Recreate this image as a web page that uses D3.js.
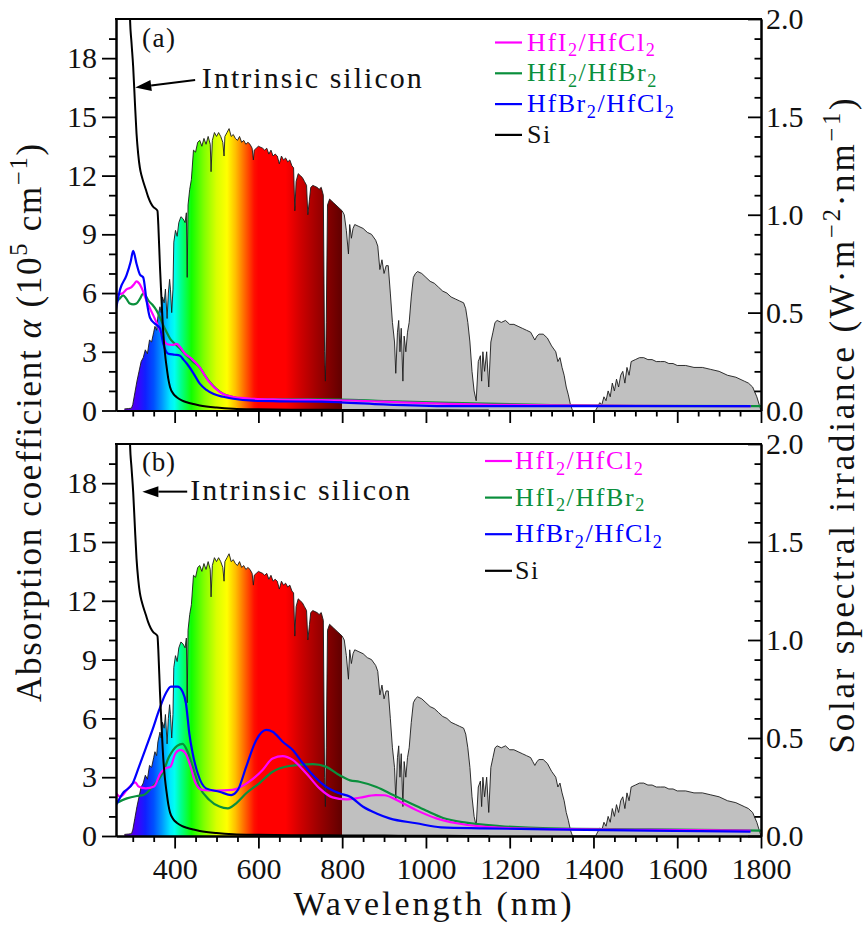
<!DOCTYPE html>
<html><head><meta charset="utf-8">
<script src="https://cdn.jsdelivr.net/npm/d3@7"></script>
<style>
body{margin:0;background:#fff}
svg{display:block}
svg text{font-family:"Liberation Serif","DejaVu Serif",serif !important;fill:#111}
</style>
</head><body>
<svg id="c" width="863" height="930"></svg>
<script>
// ---------------- DATA ----------------
const xTicksMajor = [400,600,800,1000,1200,1400,1600,1800];
const yLeftTicks = [0,3,6,9,12,15,18];
const yRightTicks = [0,0.5,1.0,1.5,2.0];

// AM1.5 solar spectral irradiance (nm, W m^-2 nm^-1)
const solarSpectrum = [[280,0.008],[290,0.01],[297,0.012],[300,0.03],[305,0.09],[310,0.15],[315,0.2],[320,0.25],[325,0.27],[330,0.31],[335,0.29],[340,0.36],[345,0.35],[350,0.40],[353,0.43],[357,0.41],[360,0.48],[365,0.53],[368,0.50],[371,0.58],[375,0.55],[378,0.62],[382,0.47],[385,0.60],[388,0.67],[390,0.62],[393,0.50],[396,0.62],[398,0.86],[402,0.92],[406,0.89],[410,0.96],[415,0.99],[420,0.98],[425,0.96],[428,1.01],[430,0.68],[432,1.05],[436,1.13],[440,1.18],[445,1.33],[450,1.32],[455,1.37],[460,1.38],[465,1.35],[470,1.39],[475,1.36],[480,1.40],[485,1.36],[487,1.22],[490,1.38],[495,1.42],[500,1.40],[505,1.42],[510,1.40],[515,1.37],[518,1.30],[520,1.40],[525,1.42],[530,1.44],[535,1.40],[540,1.41],[545,1.39],[550,1.38],[555,1.40],[560,1.37],[565,1.38],[570,1.36],[575,1.37],[580,1.36],[585,1.34],[588,1.28],[590,1.33],[595,1.34],[600,1.35],[610,1.34],[615,1.33],[620,1.34],[625,1.31],[630,1.33],[635,1.30],[640,1.31],[645,1.30],[650,1.26],[655,1.30],[660,1.28],[665,1.29],[670,1.27],[675,1.28],[680,1.25],[684,1.24],[687,1.02],[690,1.17],[695,1.21],[700,1.20],[705,1.19],[710,1.17],[715,1.15],[718,1.00],[722,1.08],[725,1.14],[730,1.15],[740,1.14],[745,1.13],[750,1.14],[755,1.10],[758,0.30],[760,0.15],[762,0.45],[765,1.05],[770,1.08],[780,1.06],[790,1.04],[795,1.03],[800,1.02],[805,1.00],[810,0.92],[815,0.80],[818,0.95],[822,0.88],[826,0.93],[830,0.95],[840,0.94],[850,0.93],[860,0.91],[870,0.90],[880,0.87],[885,0.84],[890,0.72],[895,0.77],[900,0.70],[905,0.74],[910,0.74],[915,0.60],[920,0.45],[925,0.35],[928,0.19],[932,0.40],[935,0.46],[938,0.30],[941,0.42],[945,0.15],[948,0.38],[952,0.30],[956,0.40],[960,0.45],[965,0.58],[970,0.68],[975,0.70],[980,0.71],[990,0.70],[1000,0.68],[1010,0.66],[1020,0.65],[1030,0.63],[1040,0.61],[1050,0.60],[1060,0.58],[1070,0.57],[1080,0.56],[1090,0.55],[1095,0.52],[1100,0.45],[1105,0.35],[1110,0.20],[1115,0.10],[1120,0.05],[1125,0.25],[1130,0.28],[1133,0.15],[1136,0.30],[1140,0.20],[1145,0.30],[1150,0.12],[1155,0.35],[1160,0.40],[1165,0.45],[1170,0.46],[1180,0.45],[1190,0.46],[1200,0.44],[1210,0.44],[1220,0.43],[1230,0.42],[1240,0.41],[1250,0.40],[1255,0.38],[1260,0.36],[1265,0.38],[1270,0.39],[1280,0.39],[1290,0.37],[1300,0.33],[1310,0.30],[1315,0.25],[1320,0.27],[1325,0.22],[1330,0.18],[1335,0.12],[1340,0.08],[1345,0.03],[1350,0.0],[1405,0.0],[1410,0.02],[1415,0.04],[1420,0.03],[1425,0.07],[1430,0.05],[1435,0.10],[1440,0.07],[1445,0.14],[1450,0.10],[1455,0.16],[1460,0.12],[1465,0.18],[1470,0.20],[1475,0.14],[1480,0.22],[1485,0.18],[1490,0.25],[1500,0.26],[1510,0.27],[1520,0.27],[1530,0.26],[1540,0.26],[1550,0.25],[1560,0.25],[1570,0.25],[1580,0.24],[1590,0.24],[1600,0.23],[1620,0.23],[1640,0.22],[1660,0.22],[1680,0.21],[1700,0.20],[1720,0.18],[1740,0.17],[1760,0.15],[1770,0.14],[1780,0.12],[1790,0.07],[1800,0.0]];

// spectrum fill colour stops (nm, colour)
const spectrumColors = [[260,"#4a0080"],[290,"#5a00d8"],[310,"#4000ff"],[330,"#1020ff"],[350,"#0050ff"],[370,"#0098ff"],[390,"#00eaff"],[400,"#00fff0"],[415,"#00ff90"],[440,"#10ff00"],[470,"#80ff00"],[500,"#d8ff00"],[525,"#ffff00"],[545,"#ffc000"],[565,"#ff7000"],[590,"#ff1000"],[600,"#ff0000"],[665,"#ff0000"],[700,"#d00000"],[740,"#a00000"],[800,"#600000"],[800.01,"#c0c0c0"],[1800,"#c0c0c0"]];

// intrinsic Si absorption (nm, 10^5 cm^-1)
const siAbs = [[292,22],[293.5,20],[297,18.8],[301,17.56],[305,15.8],[309,14.15],[313,13.1],[317,12.4],[321,12.0],[325,11.7],[331,11.3],[337,10.9],[343,10.6],[349,10.4],[355,10.3],[359,10.2],[361,9.5],[365,7.33],[369,5.5],[373,3.92],[377,2.9],[381,2.2],[385,1.6],[389,1.2],[397,0.85],[405,0.68],[417,0.52],[429,0.42],[445,0.33],[460,0.26],[500,0.15],[540,0.09],[600,0.06],[700,0.04],[800,0.03],[900,0.02],[1000,0.01],[1100,0.005],[1150,0.0]];

// panel (a)
const a_HfI2HfCl2 = [[260,5.93],[274,5.97],[286,6.2],[297,6.3],[303,6.45],[309,6.6],[315,6.5],[321,6.27],[333,5.6],[349,4.86],[365,4.1],[381,3.4],[395,3.35],[405,3.4],[413,3.24],[425,2.9],[441,2.64],[460,2.2],[480,1.53],[508,0.94],[540,0.68],[588,0.6],[650,0.56],[750,0.53],[818,0.51],[900,0.45],[1057,0.34],[1296,0.26],[1500,0.24],[1775,0.22]];
const a_HfI2HfBr2 = [[260,5.54],[268,5.7],[277,5.88],[285,5.7],[293,5.46],[301,5.42],[309,5.46],[317,5.7],[325,5.97],[331,5.85],[337,5.63],[347,5.4],[357,5.1],[365,4.75],[373,4.35],[381,4.0],[389,3.67],[401,3.4],[413,3.16],[429,2.8],[445,2.47],[460,2.2],[472,1.8],[484,1.45],[500,1.1],[516,0.85],[540,0.68],[556,0.6],[600,0.58],[700,0.57],[795,0.56],[900,0.48],[1058,0.39],[1300,0.28],[1500,0.24],[1800,0.22]];
const a_HfBr2HfCl2 = [[260,5.2],[270,6.2],[285,6.9],[295,7.6],[301,8.15],[309,7.5],[317,6.95],[325,6.8],[333,5.6],[341,4.75],[353,4.43],[365,4.2],[373,3.4],[385,2.9],[400,2.85],[413,2.8],[421,2.6],[429,2.4],[445,1.9],[460,1.37],[476,1.05],[492,0.85],[516,0.7],[540,0.6],[588,0.5],[650,0.47],[750,0.45],[795,0.42],[898,0.31],[1057,0.22],[1300,0.22],[1500,0.22],[1775,0.22]];

// panel (b)
const b_HfI2HfCl2 = [[260,2.18],[270,2.01],[286,2.35],[306,2.74],[314,2.52],[331,2.43],[351,2.52],[366,3.2],[378,3.45],[390,3.54],[402,4.22],[414,4.39],[426,4.22],[438,3.54],[450,2.69],[466,2.35],[498,2.31],[538,2.35],[578,2.77],[610,3.37],[634,3.96],[658,4.08],[682,3.88],[714,3.2],[746,2.43],[777,1.97],[809,1.87],[841,1.95],[880,2.09],[900,2.08],[938,1.75],[977,1.32],[1025,0.9],[1073,0.65],[1135,0.48],[1215,0.39],[1375,0.34],[1534,0.31],[1775,0.27]];
const b_HfI2HfBr2 = [[260,1.67],[286,1.92],[310,2.04],[326,2.09],[347,2.52],[371,3.2],[387,4.05],[406,4.6],[419,4.7],[431,4.3],[443,3.54],[459,2.52],[483,1.84],[507,1.5],[527,1.41],[547,1.67],[571,2.18],[602,2.69],[634,3.28],[674,3.57],[730,3.67],[761,3.54],[793,3.11],[819,2.84],[841,2.77],[882,2.5],[922,2.09],[968,1.62],[1000,1.3],[1041,0.92],[1096,0.68],[1176,0.51],[1296,0.39],[1534,0.34],[1800,0.27]];
const b_HfBr2HfCl2 = [[260,1.58],[276,2.18],[300,2.69],[315,3.54],[331,4.47],[347,5.41],[363,6.43],[379,7.28],[391,7.62],[407,7.62],[419,7.36],[427,6.77],[435,5.24],[443,4.22],[455,3.2],[475,2.43],[507,2.26],[535,2.09],[551,2.35],[571,3.54],[595,4.9],[619,5.41],[634,5.32],[658,4.81],[682,4.39],[706,3.71],[730,3.11],[761,2.52],[793,2.18],[819,2.0],[850,1.49],[882,1.15],[913,0.9],[977,0.65],[1036,0.44],[1135,0.39],[1296,0.34],[1534,0.27],[1775,0.22]];

const seriesColors = {mag:"#ff00ff", grn:"#0a8f3c", blu:"#0000ff", si:"#000000"};

// ---------------- DRAW ----------------
const FONT = "Liberation Serif, DejaVu Serif, serif";
const svg = d3.select("#c");
const x = d3.scaleLinear().domain([260,1800]).range([116,761]);

const defs = svg.append("defs");
const grad = defs.append("linearGradient").attr("id","specGrad")
  .attr("gradientUnits","userSpaceOnUse")
  .attr("x1",x(260)).attr("x2",x(1800)).attr("y1",0).attr("y2",0);
spectrumColors.forEach(([nm,c]) => grad.append("stop").attr("offset",(nm-260)/1540).attr("stop-color",c));

function rich(t, parts, fs){
  let shift = 0;
  parts.forEach(p => {
    const target = p.sub ? 0.22*fs : p.sup ? -0.4*fs : 0;
    const ts = t.append("tspan").text(p.t).attr("dy", target - shift);
    if (p.sub || p.sup) ts.attr("font-size", fs*0.7);
    if (p.it) ts.attr("font-style","italic");
    shift = target;
  });
  return t;
}
function fit(t, target){
  const n = t.node();
  const w = n.getComputedTextLength();
  const k = n.getNumberOfChars();
  t.attr("letter-spacing", ((target - w)/(k-1)).toFixed(2));
}

const legendNames = [
  {key:"mag", parts:[{t:"HfI"},{t:"2",sub:true},{t:"/HfCl"},{t:"2",sub:true}]},
  {key:"grn", parts:[{t:"HfI"},{t:"2",sub:true},{t:"/HfBr"},{t:"2",sub:true}]},
  {key:"blu", parts:[{t:"HfBr"},{t:"2",sub:true},{t:"/HfCl"},{t:"2",sub:true}]},
  {key:"si",  parts:[{t:"Si"}]}
];

const panels = [
  {id:"a", top:19, bottom:410.5, tag:"(a)", tagY:47, xLabels:false,
   data:{mag:a_HfI2HfCl2, grn:a_HfI2HfBr2, blu:a_HfBr2HfCl2},
   leg:{x0:495, x1:522, tx:527, y0:42.5, dy:30.8},
   arrowTail:[449,16.88], arrowTip:[306,16.5], note:[465,16.5]},
  {id:"b", top:444, bottom:836, tag:"(b)", tagY:471, xLabels:true,
   data:{mag:b_HfI2HfCl2, grn:b_HfI2HfBr2, blu:b_HfBr2HfCl2},
   leg:{x0:485, x1:512, tx:515, y0:461, dy:36.6},
   arrowTail:[430,17.57], arrowTip:[323,17.57], note:[437,17.15]}
];

panels.forEach(P => {
  const yL = d3.scaleLinear().domain([0,20]).range([P.bottom,P.top]);
  const yR = d3.scaleLinear().domain([0,2]).range([P.bottom,P.top]);
  const g = svg.append("g");
  const clipId = "clip"+P.id;
  defs.append("clipPath").attr("id",clipId).append("rect")
    .attr("x",x(260)).attr("y",P.top).attr("width",x(1800)-x(260)).attr("height",P.bottom-P.top);
  const plot = g.append("g").attr("clip-path",`url(#${clipId})`);

  // spectrum
  plot.append("path").datum(solarSpectrum)
    .attr("fill","url(#specGrad)")
    .attr("d", d3.area().x(d=>x(d[0])).y0(yR(0)).y1(d=>yR(d[1])));
  plot.append("path").datum(solarSpectrum)
    .attr("fill","none").attr("stroke","#1a1a1a").attr("stroke-width",0.9)
    .attr("d", d3.line().x(d=>x(d[0])).y(d=>yR(d[1])));

  const line = d3.line().x(d=>x(d[0])).y(d=>yL(d[1])).curve(d3.curveMonotoneX);
  ["grn","mag","blu"].forEach(k => {
    plot.append("path").datum(P.data[k]).attr("fill","none")
      .attr("stroke",seriesColors[k]).attr("stroke-width",2.2).attr("d",line);
  });
  plot.append("path").datum(siAbs).attr("fill","none")
    .attr("stroke","#000").attr("stroke-width",2).attr("d",line);

  // axes
  const minorX = d3.range(300,1801,50).filter(v=>v%200!==0);
  const ax = g.append("g").attr("transform",`translate(0,${P.bottom})`);
  ax.call(d3.axisBottom(x).tickValues(minorX).tickSize(6).tickSizeOuter(0).tickFormat(""));
  ax.append("g").call(d3.axisBottom(x).tickValues(xTicksMajor).tickSize(12.5).tickSizeOuter(0).tickPadding(9)
     .tickFormat(P.xLabels ? d3.format("d") : ""));

  const minorL = d3.range(1,20).filter(v=>v%3!==0);
  const al = g.append("g").attr("transform",`translate(${x(260)},0)`);
  al.call(d3.axisLeft(yL).tickValues(minorL).tickSize(7).tickSizeOuter(0).tickFormat(""));
  al.append("g").call(d3.axisLeft(yL).tickValues(yLeftTicks).tickSize(14).tickSizeOuter(0).tickPadding(5).tickFormat(d3.format("d")));

  const minorR = d3.range(1,20).filter(v=>v%5!==0).map(v=>v/10);
  const ar = g.append("g").attr("transform",`translate(${x(1800)},0)`);
  ar.call(d3.axisRight(yR).tickValues(minorR).tickSize(-6.5).tickSizeOuter(0).tickFormat(""));
  ar.append("g").call(d3.axisRight(yR).tickValues(yRightTicks).tickSize(-13).tickSizeOuter(0).tickPadding(5).tickFormat(d3.format(".1f")));

  g.append("line").attr("x1",x(260)-1).attr("x2",x(1800)+1).attr("y1",P.top).attr("y2",P.top)
    .attr("stroke","#000").attr("stroke-width",2);

  g.selectAll("g").attr("font-family",FONT);
  g.selectAll(".domain").attr("stroke","#000").attr("stroke-width",2);
  g.selectAll(".tick line").attr("stroke","#000").attr("stroke-width",1.8);
  g.selectAll(".tick text").attr("font-size",30).attr("fill","#111").attr("font-family",FONT);

  // panel tag
  const tg = g.append("text").attr("x",142).attr("y",P.tagY).attr("font-family",FONT).attr("font-size",27).text(P.tag);
  fit(tg, 33);

  // annotation arrow
  const tail = [x(P.arrowTail[0]), yL(P.arrowTail[1])], tip = [x(P.arrowTip[0]), yL(P.arrowTip[1])];
  const ang = Math.atan2(tip[1]-tail[1], tip[0]-tail[0]);
  const hl = 16, hw = 5.5;
  const base = [tip[0]-hl*Math.cos(ang), tip[1]-hl*Math.sin(ang)];
  g.append("line").attr("x1",tail[0]).attr("y1",tail[1]).attr("x2",base[0]).attr("y2",base[1])
    .attr("stroke","#000").attr("stroke-width",2);
  g.append("path").attr("fill","#000").attr("d",
    `M${tip[0]},${tip[1]}L${base[0]-hw*Math.sin(ang)},${base[1]+hw*Math.cos(ang)}L${base[0]+hw*Math.sin(ang)},${base[1]-hw*Math.cos(ang)}Z`);
  const nt = g.append("text").attr("x",x(P.note[0])).attr("y",yL(P.note[1])).attr("font-family",FONT).attr("font-size",30).text("Intrinsic silicon");
  fit(nt, 220);

  // legend
  legendNames.forEach((L,i) => {
    const yy = P.leg.y0 + i*P.leg.dy;
    g.append("line").attr("x1",P.leg.x0).attr("x2",P.leg.x1).attr("y1",yy).attr("y2",yy)
      .attr("stroke",seriesColors[L.key]).attr("stroke-width",2.2);
    const t = g.append("text").attr("x",P.leg.tx).attr("y",yy+8).attr("font-family",FONT).attr("font-size",26)
      .attr("letter-spacing",1.6).style("fill", L.key==="si" ? "#111" : seriesColors[L.key]);
    rich(t, L.parts, 26);
  });
});

// axis titles
const xt = svg.append("text").attr("x",434).attr("y",915).attr("text-anchor","middle").attr("font-family",FONT).attr("font-size",34).text("Wavelength (nm)");
fit(xt, 278);

const lt = svg.append("text").attr("text-anchor","middle").attr("font-family",FONT).attr("font-size",35)
  .attr("transform","translate(41,422) rotate(-90)");
rich(lt, [{t:"Absorption coefficient "},{t:"α",it:true},{t:" (10"},{t:"5",sup:true},{t:" cm"},{t:"−1",sup:true},{t:")"}], 35);
fit(lt, 558);

const rt = svg.append("text").attr("text-anchor","middle").attr("font-family",FONT).attr("font-size",35)
  .attr("transform","translate(854,424.5) rotate(-90)");
rich(rt, [{t:"Solar spectral irradiance (W·m"},{t:"−2",sup:true},{t:"·nm"},{t:"−1",sup:true},{t:")"}], 35);
fit(rt, 655);
</script>
</body></html>
